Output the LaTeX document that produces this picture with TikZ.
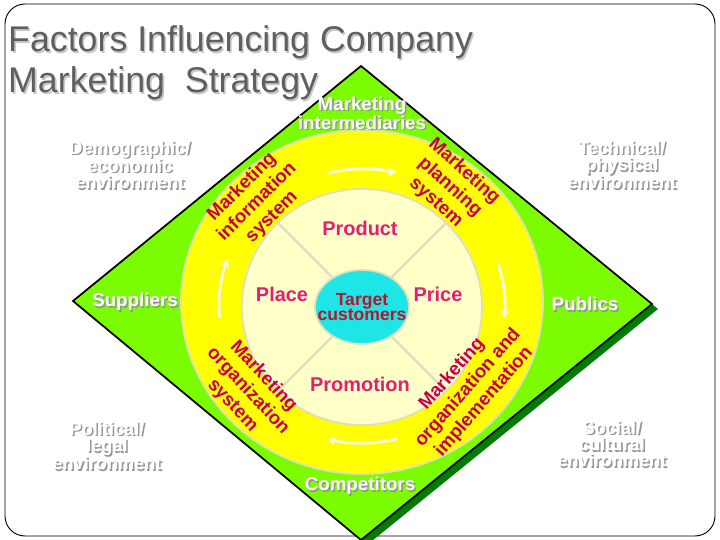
\documentclass[tikz,border=0pt]{standalone}
\usepackage{fontspec}
\setmainfont{Liberation Sans}
\usetikzlibrary{shapes.geometric,arrows.meta}
\definecolor{diagreen}{RGB}{124,252,0}
\definecolor{shadowgreen}{RGB}{0,125,0}
\definecolor{ringyellow}{RGB}{255,255,0}
\definecolor{mixcream}{RGB}{255,255,200}
\definecolor{targetcyan}{RGB}{30,230,230}
\definecolor{rimgray}{RGB}{222,222,190}
\definecolor{cyclecream}{RGB}{250,250,218}
\definecolor{mixpink}{RGB}{225,30,120}
\definecolor{targetred}{RGB}{185,20,45}
\definecolor{systemred}{RGB}{200,0,75}
\definecolor{titlegray}{RGB}{95,95,95}
\definecolor{embossgray}{RGB}{150,150,150}
\definecolor{titleshadow}{RGB}{200,200,200}
\newcommand{\shadowed}[5][embossgray]{%
  \node[#2,text=#1,xshift=1.3pt,yshift=-1.3pt] at (#3) {#5};
  \node[#2] (#4) at (#3) {#5};}

\begin{document}
\begin{tikzpicture}[x=0.03cm,y=-0.03cm,
  title text/.style={anchor=base west,inner sep=0,font=\fontsize{30.5}{34}\selectfont,text=titlegray},
  force label/.style={font=\bfseries\fontsize{16}{14}\selectfont,text=white,align=center},
  env label/.style={font=\bfseries\fontsize{15.5}{14}\selectfont,text=white,align=center},
  mix label/.style={font=\bfseries\fontsize{17}{19}\selectfont,text=mixpink},
  system label/.style={font=\bfseries\fontsize{16}{18}\selectfont,text=systemred,align=center},
  cycle arrow/.style={draw=cyclecream,line width=2.5pt,-{Stealth[length=7pt,width=8pt]}}]
  \useasboundingbox (0,0) rectangle (720,540);
  \draw[line width=0.8pt,rounded corners=0.6cm] (5,4) rectangle (715,536);

  \coordinate (top) at (361,66);
  \coordinate (right) at (652,304);
  \coordinate (bottom) at (361,540);
  \coordinate (left) at (73,301);
  \fill[shadowgreen] ([shift={(6,5)}]top) -- ([shift={(6,5)}]right)
    -- ([shift={(6,5)}]bottom) -- ([shift={(6,5)}]left) -- cycle;
  \draw[fill=diagreen,line width=1.5pt] (top) -- (right) -- (bottom) -- (left) -- cycle;

  \node[ellipse,fill=ringyellow,draw=rimgray,line width=1.5pt,inner sep=0,
    minimum width=10.86cm,minimum height=10.32cm] (ring) at (362,302) {};
  \node[ellipse,fill=mixcream,draw=rimgray,line width=1.5pt,inner sep=0,
    minimum width=7.2cm,minimum height=7.08cm] (mix) at (362,307) {};
  \node[ellipse,fill=targetcyan,draw=rimgray,line width=1.5pt,inner sep=0,
    minimum width=2.82cm,minimum height=2.22cm] (target) at (362,307) {};
  \node[align=center,text=targetred,font=\bfseries\fontsize{15}{13.5}\selectfont]
    (targettext) at (target.center) {Target\\customers};
  \foreach \a in {45,135,225,315}
    \draw[rimgray,line width=2pt] (target.\a) -- (mix.\a);

  \coordinate (hub) at (362,306);
  \draw[cycle arrow] ([shift={(256:143 and 137)}]hub) arc[start angle=256,end angle=284,x radius=143,y radius=137];
  \draw[cycle arrow] ([shift={(342:143 and 137)}]hub) arc[start angle=342,end angle=365,x radius=143,y radius=137];
  \draw[cycle arrow] ([shift={(76:143 and 137)}]hub) arc[start angle=76,end angle=104,x radius=143,y radius=137];
  \draw[cycle arrow] ([shift={(175:143 and 137)}]hub) arc[start angle=175,end angle=200,x radius=143,y radius=137];

  \shadowed[titleshadow]{title text}{8,52}{title1}{Factors Influencing Company}
  \shadowed[titleshadow]{title text}{8,93}{title2}{Marketing\ \ Strategy}

  \shadowed{force label}{362,113}{intermediaries}{Marketing\\intermediaries}
  \shadowed{force label}{135,302}{suppliers}{Suppliers}
  \shadowed{force label}{585,304}{publics}{Publics}
  \shadowed{force label}{360,486}{competitors}{Competitors}

  \shadowed{env label}{130,165}{demographic}{Demographic/\\economic\\environment}
  \shadowed{env label}{622,165}{technical}{Technical/\\physical\\environment}
  \shadowed{env label}{107,446}{political}{Political/\\legal\\environment}
  \shadowed{env label}{612,444}{social}{Social/\\cultural\\environment}

  \node[mix label] (product) at (360,228) {Product};
  \node[mix label] (place) at (282,294) {Place};
  \node[mix label] (price) at (438,294) {Price};
  \node[mix label] (promotion) at (360,384) {Promotion};

  \node[system label,rotate=45] (info) at (257,202) {Marketing\\information\\system};
  \node[system label,rotate=-42] (planning) at (450,187) {Marketing\\planning\\system};
  \node[system label,rotate=-47] (organization) at (248,391) {Marketing\\organization\\system};
  \node[system label,rotate=49] (implementation) at (468,388) {Marketing\\organization and\\implementation};
\end{tikzpicture}
\end{document}
